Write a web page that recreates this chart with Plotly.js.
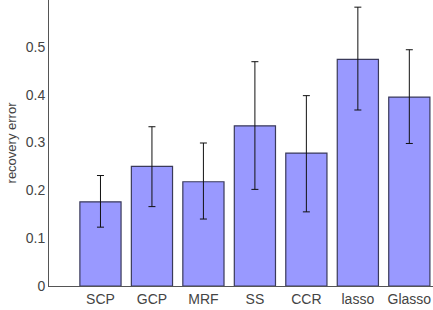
<!DOCTYPE html>
<html><head><meta charset="utf-8">
<script src="https://cdn.plot.ly/plotly-3.0.1.min.js"></script>
<style>html,body{margin:0;padding:0;background:#fff}#c{width:433px;height:310px}</style>
</head><body><div id="c"></div>
<script>
const categories = ["SCP","GCP","MRF","SS","CCR","lasso","Glasso"];
const positions = [1,2,3,4,5,6,7];
const values = [0.176,0.250,0.218,0.335,0.278,0.474,0.395];
const errPlus = [0.055,0.083,0.081,0.134,0.120,0.109,0.099];
const errMinus = [0.053,0.084,0.078,0.133,0.123,0.106,0.097];
const yTicks = [0,0.1,0.2,0.3,0.4,0.5];
const yTickText = ["0","0.1","0.2","0.3","0.4","0.5"];

Plotly.newPlot('c', [{
  type:'bar', x:positions, y:values, width:0.8,
  marker:{color:'#9999ff', line:{color:'#3a3a5a', width:1.2}},
  error_y:{type:'data', symmetric:false, array:errPlus, arrayminus:errMinus,
           color:'#111', thickness:1, width:3.5}
}], {
  width:433, height:310,
  margin:{l:49, r:0, t:0, b:24},
  paper_bgcolor:'#fff', plot_bgcolor:'#fff',
  showlegend:false,
  font:{family:'Liberation Sans, Arial, sans-serif', size:14, color:'#444'},
  xaxis:{range:[0,7.46], tickvals:positions, ticktext:categories, showgrid:false,
         zeroline:false, showline:true, linecolor:'#555', linewidth:1, ticks:'',
         tickfont:{size:14, color:'#444'}, fixedrange:true},
  yaxis:{range:[0,0.598], tickvals:yTicks, ticktext:yTickText, showgrid:false,
         zeroline:false, showline:true, linecolor:'#555', linewidth:1, ticks:'',
         ticklen:0, tickfont:{size:14, color:'#444'},
         title:{text:'recovery error', font:{size:13, color:'#444'}, standoff:6}}
}, {displayModeBar:false, staticPlot:true});
</script></body></html>
